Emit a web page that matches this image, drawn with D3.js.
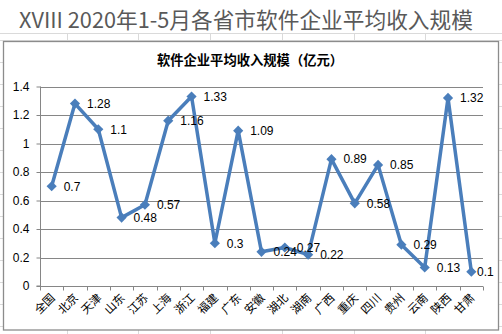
<!DOCTYPE html>
<html>
<head>
<meta charset="utf-8">
<script src="https://cdn.jsdelivr.net/npm/d3@7"></script>
<style>
  html, body { margin: 0; padding: 0; background: #fff; }
  svg { display: block; }
</style>
</head>
<body>
<svg id="chart" width="502" height="334"></svg>
<script>
// Average revenue per software enterprise, Jan–May 2020 (100 million yuan)
const provinces = ["全国", "北京", "天津", "山东", "江苏", "上海", "浙江", "福建", "广东", "安徽",
                   "湖北", "湖南", "广西", "重庆", "四川", "贵州", "云南", "陕西", "甘肃"];
const avgRevenue = [0.7, 1.28, 1.1, 0.48, 0.57, 1.16, 1.33, 0.3, 1.09, 0.24,
                    0.27, 0.22, 0.89, 0.58, 0.85, 0.29, 0.13, 1.32, 0.1];
const yTicks = [0, 0.2, 0.4, 0.6, 0.8, 1, 1.2, 1.4];

const pageTitle = "XVIII 2020年1-5月各省市软件企业平均收入规模";
const chartTitle = "软件企业平均收入规模（亿元）";

const svg = d3.select("#chart");
const W = 502, H = 334;

// faint worksheet cell grid behind the chart object
const cellCols = [67, 138, 210, 282, 354, 425];
const cellRows = d3.range(40, H, 22);
const sheet = svg.append("g").attr("stroke", "#dadada").attr("stroke-width", 1);
sheet.selectAll("line.r").data(cellRows).join("line")
  .attr("x1", 0).attr("x2", W).attr("y1", d => d + 0.5).attr("y2", d => d + 0.5);
sheet.append("line").attr("x1", 0).attr("x2", W).attr("y1", 33.5).attr("y2", 33.5);
sheet.selectAll("line.c").data(cellCols).join("line")
  .attr("y1", 33).attr("y2", H).attr("x1", d => d + 0.5).attr("x2", d => d + 0.5);

// page heading
svg.append("rect").attr("x", 0).attr("y", 0).attr("width", W).attr("height", 33).attr("fill", "#fff");
svg.append("text")
  .attr("x", 19).attr("y", 28)
  .attr("font-family", "'Noto Sans CJK SC', 'Noto Sans', sans-serif")
  .attr("font-size", 21.7)
  .attr("fill", "#595959")
  .text(pageTitle);

// chart object frame
svg.append("rect")
  .attr("x", 3.5).attr("y", 41.5).attr("width", 495).attr("height", 288.5)
  .attr("fill", "#fff").attr("stroke", "#8c8c8c").attr("stroke-width", 1.3);

svg.append("text")
  .attr("x", 250).attr("y", 65)
  .attr("text-anchor", "middle")
  .attr("font-family", "'Noto Sans CJK SC', sans-serif")
  .attr("font-weight", "bold")
  .attr("font-size", 13.3)
  .attr("fill", "#000")
  .text(chartTitle);

// plot area
const plot = { left: 40, right: 483, top: 86.5, bottom: 286 };

const x = d3.scaleBand().domain(provinces).range([plot.left, plot.right]);
const y = d3.scaleLinear().domain([0, 1.4]).range([plot.bottom, plot.top]);

const g = svg.append("g");

// horizontal gridlines
g.selectAll("line.grid").data(yTicks).join("line")
  .attr("x1", plot.left).attr("x2", plot.right)
  .attr("y1", d => Math.round(y(d)) + 0.5).attr("y2", d => Math.round(y(d)) + 0.5)
  .attr("stroke", "#868686").attr("stroke-width", 1);

// y axis
const yAxis = g.append("g")
  .attr("transform", `translate(${plot.left + 0.5},0)`)
  .call(d3.axisLeft(y).tickValues(yTicks).tickSize(4).tickPadding(7).tickFormat(d3.format("")));
yAxis.select(".domain").attr("stroke", "#868686").attr("d", `M-4,${y(0)}H0V${y(1.4)}`);
yAxis.selectAll(".tick line").attr("stroke", "#868686");
yAxis.selectAll(".tick text")
  .attr("font-family", "'Liberation Sans', Arial, sans-serif")
  .attr("font-size", 12).attr("fill", "#000");

// x axis: ticks on category boundaries
const xa = g.append("g").attr("transform", `translate(0,${Math.round(y(0)) + 0.5})`);
xa.append("line").attr("x1", plot.left).attr("x2", plot.right).attr("stroke", "#868686");
const bounds = provinces.map(p => x(p)).concat([plot.right]);
xa.selectAll("line.t").data(bounds).join("line")
  .attr("x1", d => Math.round(d) + 0.5).attr("x2", d => Math.round(d) + 0.5)
  .attr("y1", 0).attr("y2", 4).attr("stroke", "#868686");
xa.selectAll("text").data(provinces).join("text")
  .attr("transform", d => `translate(${x(d) + x.bandwidth() / 2 + 4},${12}) rotate(-45)`)
  .attr("text-anchor", "end")
  .attr("font-family", "'Noto Sans CJK SC', sans-serif")
  .attr("font-size", 11.5)
  .attr("fill", "#000")
  .text(d => d);

// series line
const cx = (d, i) => x(provinces[i]) + x.bandwidth() / 2;
const line = d3.line().x((d, i) => cx(d, i)).y(d => y(d));
g.append("path")
  .datum(avgRevenue)
  .attr("d", line)
  .attr("fill", "none")
  .attr("stroke", "#4a7ebb")
  .attr("stroke-width", 3.5)
  .attr("stroke-linejoin", "round");

// diamond markers
const diamond = d3.symbol().type(d3.symbolDiamond2).size(66);
g.selectAll("path.mk").data(avgRevenue).join("path")
  .attr("transform", (d, i) => `translate(${cx(d, i)},${y(d)})`)
  .attr("d", diamond)
  .attr("fill", "#4a7ebb");

// value labels, kept inside the plot area on the right edge
g.selectAll("text.val").data(avgRevenue).join("text")
  .attr("x", (d, i) => Math.min(cx(d, i) + 12, plot.right - 6))
  .attr("y", d => y(d))
  .attr("dy", "0.36em")
  .attr("font-family", "'Liberation Sans', Arial, sans-serif")
  .attr("font-size", 12)
  .attr("fill", "#000")
  .text(d => String(d));
</script>
</body>
</html>
